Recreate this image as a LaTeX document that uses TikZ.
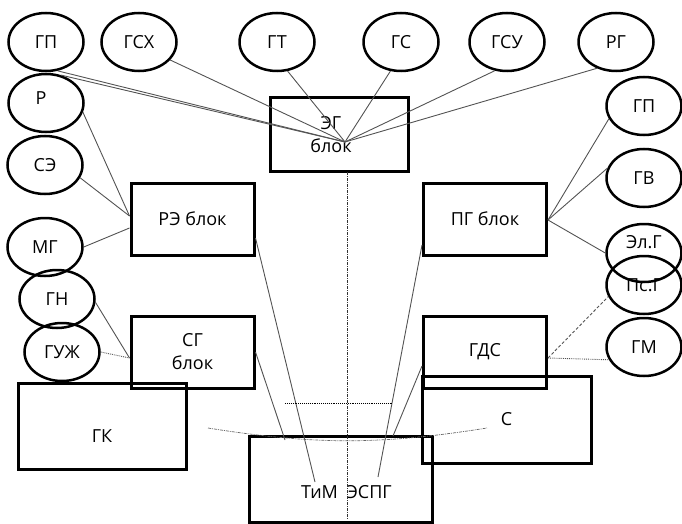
\documentclass[tikz,border=0pt]{standalone}
\usepackage{fontspec}
\setmainfont{Open Sans}
\usetikzlibrary{shapes.geometric,positioning,calc}

\begin{document}
\begin{tikzpicture}[
  x=1pt, y=-1pt,
  ell/.style={draw, ellipse, line width=2.5pt, minimum width=75pt, minimum height=58pt, inner sep=0pt, font=\fontsize{18}{21}\selectfont},
  blk/.style={draw, line width=3pt, inner sep=0pt, align=center, font=\fontsize{18}{23}\selectfont},
  lbl/.style={font=\fontsize{18}{23}\selectfont, align=center},
  con/.style={draw=gray!65!black, line width=0.9pt},
  dotcon/.style={con, densely dotted},
  axis/.style={draw=black!80, line width=0.7pt, dash pattern=on 3pt off 1pt on 1pt off 1pt}
]
  \useasboundingbox (0,0) rectangle (682,524);

  % top row
  \node[ell] (gpl) at (46,42) {ГП};
  \node[ell] (gsh) at (139,42) {ГСХ};
  \node[ell] (gt) at (277,42) {ГТ};
  \node[ell] (gs) at (401,42) {ГС};
  \node[ell] (gsu) at (507,42) {ГСУ};
  \node[ell] (rg) at (616,42) {РГ};

  % left column
  \node[ell, label={[lbl,xshift=-5pt,yshift=5pt]center:Р}] (r) at (46,103) {};
  \node[ell] (se) at (45,165) {СЭ};
  \node[ell] (mg) at (45,247) {МГ};
  \node[ell] (gn) at (57,299) {ГН};
  \node[ell] (guzh) at (62,352) {ГУЖ};

  % right column
  \node[ell] (gpr) at (644,106) {ГП};
  \node[ell] (gv) at (644,178) {ГВ};
  \node[ell, label={[lbl,yshift=11pt]center:Эл.Г}] (elg) at (644,253) {};
  \node[ell] (psg) at (644,285) {Пс.Г};
  \node[ell] (gm) at (644,347) {ГМ};

  % boxes
  \node[blk, minimum width=138pt, minimum height=73pt, label={[lbl,xshift=-8pt]center:ЭГ\\блок}] (eg) at (339,134.5) {};
  \node[blk, minimum width=123pt, minimum height=72pt] (re) at (192.5,219) {РЭ блок};
  \node[blk, minimum width=123pt, minimum height=72pt] (pg) at (485,219) {ПГ\ блок};
  \node[blk, minimum width=123pt, minimum height=72pt, below=58pt of re] (sg) {СГ\\блок};
  \node[blk, minimum width=123pt, minimum height=72pt, below=58pt of pg] (gds) {ГДС};
  \node[blk, minimum width=168pt, minimum height=86pt, label={[lbl,yshift=-10pt]center:ГК}] (gk) at (102,426) {};
  \node[blk, minimum width=169pt, minimum height=87pt] (c) at (506.5,419.5) {С};
  \node[blk, minimum width=183pt, minimum height=86pt, label={[lbl,xshift=6pt,yshift=-13pt]center:ТиМ\hspace{4pt} ЭСПГ}] (tim) at (340.5,479.5) {};

  % free ends
  \coordinate (eghub) at (345,142);
  \coordinate (tim1) at (315,482);
  \coordinate (tim2) at (285,440);
  \coordinate (tim3) at (378,477);
  \coordinate (tim4) at (393,436);
  \coordinate (v1) at (347,172);
  \coordinate (v2) at (347,520);
  \coordinate (h1) at (285,403);
  \coordinate (h2) at (393,403);
  \coordinate (gkout) at (208,428);
  \coordinate (cin) at (487,428);

  \draw[con] (gpl.-68) -- (eghub);
  \draw[con] (r.62) -- (eghub);
  \draw[con] (gsh.-30) -- (eghub);
  \draw[con] (gt.-70) -- (eghub);
  \draw[con] (gs.-110) -- (eghub);
  \draw[con] (gsu.-113) -- (eghub);
  \draw[con] (rg.-126) -- (eghub);

  \draw[con] (r.-14) -- ([yshift=3pt]re.west);
  \draw[con] (se.-20) -- ([yshift=3pt]re.west);
  \draw[con] (mg.east) -- ([yshift=-9pt]re.west);
  \draw[con] (gn.-5) -- ([yshift=-6pt]sg.west);
  \draw[dotcon] (guzh.east) -- ([yshift=-6pt]sg.west);

  \draw[con] ([yshift=-1pt]pg.east) -- (gpr.200);
  \draw[con] ([yshift=-1pt]pg.east) -- (gv.165);
  \draw[con] ([yshift=-1pt]pg.east) -- (elg.west);
  \draw[con, densely dashed] ([yshift=-6pt]gds.east) -- (psg.198);
  \draw[dotcon] ([yshift=-6pt]gds.east) -- (gm.200);

  \draw[con] ([yshift=-19pt]re.east) -- (tim1);
  \draw[con] (sg.east) -- (tim2);
  \draw[con] ([yshift=-26pt]pg.west) -- (tim3);
  \draw[con] ([yshift=-14pt]gds.west) -- (tim4);

  \draw[axis] (v1) -- (v2);
  \draw[con, densely dotted, line width=0.7pt, black] (h1) -- (h2);
  \draw[axis, draw=black!60] (gkout) to[bend right=9] (cin);
\end{tikzpicture}
\end{document}
